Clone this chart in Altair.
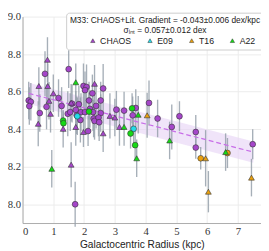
import altair as alt
import pandas as pd

# ---- data ----
survey = (["CHAOS"] * 46 + ["CHAOS"] * 17 + ["E09"] * 2 + ["T16"] * 6 + ["A22"] * 13)
shape = (["c"] * 46 + ["t"] * 17 + ["c", "c"] +
         ["t", "c", "t", "t", "c", "t"] +
         ["t", "c", "c", "t", "c", "c", "t", "t", "c", "c", "t", "t", "t"])
radius = [0.73, 1.50, 0.20, 0.27, 0.22, 0.78, 0.56, 1.17, 1.27, 1.47, 1.55, 1.61, 1.73, 1.76,
          1.83, 1.88, 1.90, 1.98, 2.08, 2.03, 2.27, 2.62, 2.54, 2.16, 2.19, 2.03, 2.29, 2.54,
          2.31, 2.34, 2.47, 2.49, 2.39, 3.05, 3.30, 3.58, 3.68, 4.11, 4.39, 5.10, 4.85, 5.63,
          5.63, 7.48, 1.71, 2.13,
          0.81, 0.82, 0.53, 1.00, 0.86, 0.91, 0.51, 1.58, 2.34, 1.32, 1.98, 2.62, 2.84, 3.00,
          3.15, 1.58, 1.73,
          1.78, 3.61,
          4.05, 5.79, 5.95, 6.04, 6.66, 7.44,
          1.73, 1.32, 1.33, 0.95, 2.16, 3.56, 3.76, 3.30, 3.51, 3.66, 3.71, 4.78, 6.60]
oh = [8.695, 8.720, 8.553, 8.546, 8.523, 8.519, 8.486, 8.566, 8.524, 8.482, 8.491, 8.536, 8.503, 8.474,
      8.533, 8.449, 8.491, 8.630, 8.625, 8.608, 8.591, 8.617, 8.553, 8.553, 8.508, 8.491, 8.491, 8.486,
      8.457, 8.444, 8.462, 8.437, 8.524, 8.504, 8.499, 8.474, 8.513, 8.540, 8.457, 8.469, 8.412, 8.385,
      8.302, 8.320, 8.000, 8.390,
      8.770, 8.630, 8.630, 8.591, 8.551, 8.482, 8.429, 8.541, 8.642, 8.402, 8.385, 8.378, 8.471, 8.462,
      8.412, 8.211, 8.412,
      8.469, 8.402,
      8.474, 8.245, 8.245, 8.067, 8.273, 8.142,
      8.650, 8.446, 8.432, 8.189, 8.494, 8.511, 8.477, 8.412, 8.377, 8.315, 8.245, 8.340, 8.278]
err = [0.12, 0.10, 0.10, 0.10, 0.10, 0.12, 0.10, 0.10, 0.10, 0.12, 0.10, 0.10, 0.10, 0.10,
       0.10, 0.12, 0.10, 0.12, 0.12, 0.10, 0.10, 0.13, 0.10, 0.10, 0.10, 0.10, 0.10, 0.10,
       0.10, 0.10, 0.10, 0.10, 0.12, 0.10, 0.10, 0.10, 0.10, 0.12, 0.10, 0.08, 0.12, 0.09,
       0.06, 0.08, 0.12, 0.08,
       0.12, 0.12, 0.10, 0.10, 0.10, 0.10, 0.12, 0.10, 0.10, 0.10, 0.08, 0.10, 0.12, 0.10,
       0.10, 0.12, 0.10,
       0.10, 0.10,
       0.12, 0.06, 0.15, 0.11, 0.08, 0.10,
       0.10, 0.05, 0.05, 0.10, 0.10, 0.08, 0.10, 0.10, 0.08, 0.08, 0.10, 0.10, 0.10]

fit_x = [0.2, 7.5]
fit_y = [8.591, 8.278]
band_lo = [8.534, 8.221]
band_hi = [8.648, 8.335]

surveys = ["CHAOS", "E09", "T16", "A22"]
colors = ["#a546c9", "#22dbe8", "#e9a00e", "#16d916"]

df = pd.DataFrame({"survey": survey, "shape": shape, "r": radius, "oh": oh, "err": err})
df["lo"] = df["oh"] - df["err"]
df["hi"] = df["oh"] + df["err"]
fit = pd.DataFrame({"r": fit_x, "oh": fit_y, "lo": band_lo, "hi": band_hi})

SANS = "Liberation Sans"
SERIF = "Liberation Serif"

xs = alt.Scale(domain=[0, 7.75], nice=False)
ys = alt.Scale(domain=[7.9, 9.0], nice=False, zero=False)

xax = alt.Axis(values=[0, 1, 2, 3, 4, 5, 6, 7], format="d", title="Galactocentric Radius (kpc)",
               labelFont=SERIF, labelFontSize=11, labelColor="#333", titleFont=SANS,
               titleFontSize=10.5, titleFontWeight="normal", titleColor="#222",
               gridColor="#ebebeb", domainColor="#aaa", ticks=False, labelPadding=3,
               titlePadding=3, labelOverlap=False, grid=True)
yax = alt.Axis(values=[8.0, 8.2, 8.4, 8.6, 8.8, 9.0], format=".1f", title=None,
               labelFont=SERIF, labelFontSize=11, labelColor="#333",
               gridColor="#ebebeb", domainColor="#aaa", ticks=False, labelPadding=2,
               labelOverlap=False, grid=True)

X = lambda f: alt.X(f, scale=xs, axis=xax)
Y = lambda f: alt.Y(f, scale=ys, axis=yax)

band = alt.Chart(fit).mark_area(color="#e8d6f6", opacity=0.65).encode(
    x=X("r:Q"), y=Y("lo:Q"), y2="hi:Q")

bars = alt.Chart(df).mark_rule(color="#97a1ab", strokeWidth=1.4, opacity=0.85).encode(
    x=X("r:Q"), y=Y("lo:Q"), y2="hi:Q")

line = alt.Chart(fit).mark_line(color="#c86ee8", strokeDash=[5, 3], strokeWidth=1.3).encode(
    x=X("r:Q"), y=Y("oh:Q"))

pts = alt.Chart(df).mark_point(filled=True, opacity=1, stroke="#333",
                               strokeWidth=0.6).encode(
    x=X("r:Q"), y=Y("oh:Q"),
    shape=alt.Shape("shape:N", scale=alt.Scale(domain=["c", "t"],
                    range=["circle", "triangle-up"]), legend=None),
    size=alt.value(36),
    color=alt.Color("survey:N", scale=alt.Scale(domain=surveys, range=colors),
                    legend=alt.Legend(
                        title=["M33: CHAOS+Lit. Gradient = -0.043±0.006 dex/kpc",
                               "σᵢₙₜ = 0.057±0.012 dex"],
                        orient="none", legendX=45, legendY=-4,
                        direction="horizontal", columns=4, gridAlign="each",
                        columnPadding=0, symbolType="triangle-up", symbolSize=20,
                        symbolStrokeColor="#333", symbolStrokeWidth=0.5,
                        symbolOffset=14,
                        labelFont=SANS, labelFontSize=9, labelColor="#222",
                        labelOffset=3,
                        titleFont=SANS, titleFontSize=8.6, titleFontWeight="normal",
                        titleColor="#222", titleAlign="center", titleAnchor="middle",
                        titleLineHeight=9.5, titlePadding=2, titleLimit=400,
                        fillColor="white", strokeColor="#cccccc", cornerRadius=3,
                        padding=4)))

chart = alt.layer(band, bars, line, pts).properties(
    width=246, height=213,
    autosize=alt.AutoSizeParams(type="none"),
    padding={"left": 15, "top": 5, "right": 0, "bottom": 25},
).configure_view(stroke=None)

chart.save("out.html", embed_options={"renderer": "svg", "actions": False})
